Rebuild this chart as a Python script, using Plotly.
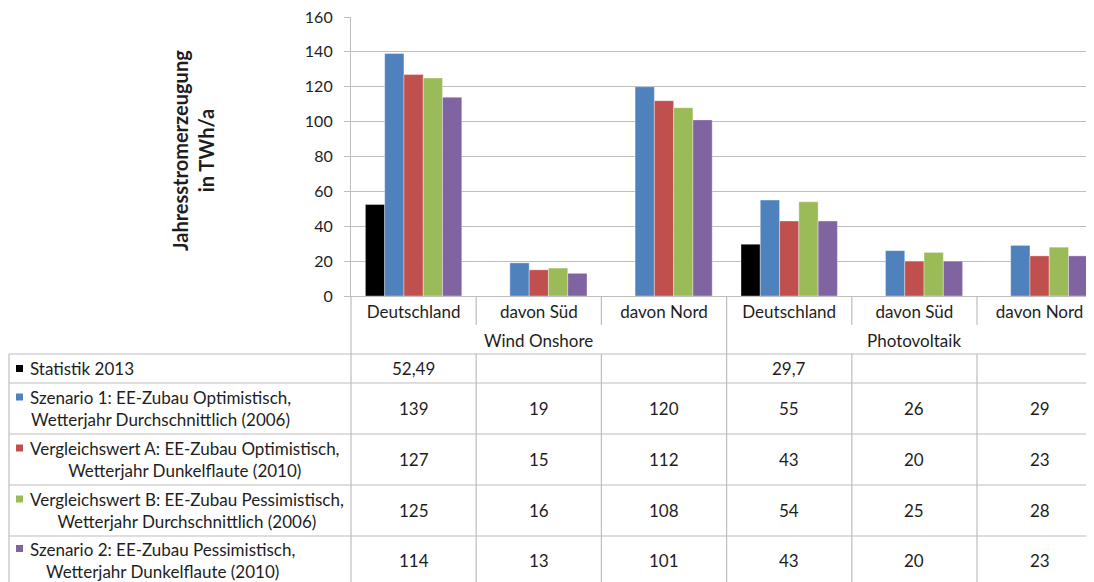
import plotly.graph_objects as go

# ---------------- data ----------------
categories = ["Deutschland", "davon Süd", "davon Nord", "Deutschland", "davon Süd", "davon Nord"]
category_groups = ["Wind Onshore", "Wind Onshore", "Wind Onshore",
                   "Photovoltaik", "Photovoltaik", "Photovoltaik"]

series_names = [
    "Statistik 2013",
    "Szenario 1: EE-Zubau Optimistisch,<br>Wetterjahr Durchschnittlich (2006)",
    "Vergleichswert A: EE-Zubau Optimistisch,<br>Wetterjahr Dunkelflaute (2010)",
    "Vergleichswert B: EE-Zubau Pessimistisch,<br>Wetterjahr Durchschnittlich (2006)",
    "Szenario 2: EE-Zubau Pessimistisch,<br>Wetterjahr Dunkelflaute (2010)",
]
statistik_2013 = [52.49, None, None, 29.7, None, None]
szenario_1 = [139, 19, 120, 55, 26, 29]
vergleichswert_a = [127, 15, 112, 43, 20, 23]
vergleichswert_b = [125, 16, 108, 54, 25, 28]
szenario_2 = [114, 13, 101, 43, 20, 23]
series_values = [statistik_2013, szenario_1, vergleichswert_a, vergleichswert_b, szenario_2]
series_colors = ["#000000", "#4F81BD", "#C0504D", "#9BBB59", "#8064A2"]

y_ticks = [0, 20, 40, 60, 80, 100, 120, 140, 160]
y_title = "Jahresstromerzeugung<br>in TWh/a"

# ---------------- layout geometry ----------------
# the page body has an 8px margin, so the figure starts at (8, 8) in the window
OFF = 8
W, H = 1094 - OFF, 582 - OFF
# plot area in window pixels
L_WIN, R_WIN, T_WIN, B_WIN = 351, 1094, 17, 296
L, R, T, B = L_WIN - OFF, R_WIN - OFF, T_WIN - OFF, B_WIN - OFF
CAT_W = 125.2
FONT = "Lato"
TXT = "#1e1e1e"
LINE = "#BEBEBE"
FS = 17


def px_x(p):
    """window pixel x -> paper x"""
    return (p - OFF - L) / (R - L)


def px_y(p):
    """window pixel y -> paper y"""
    return (B - (p - OFF)) / (B - T)


def fmt(v):
    if v is None:
        return ""
    return str(v).replace(".", ",")


x_idx = list(range(len(categories)))
x_range = [-0.5, -0.5 + (R - L) / CAT_W]

fig = go.Figure()
for name, vals, col in zip(series_names, series_values, series_colors):
    fig.add_trace(go.Bar(
        x=x_idx, y=vals, name=name.replace("<br>", " "),
        marker=dict(color=col, line=dict(width=0.6, color="rgba(255,255,255,0.6)")),
        showlegend=False,
    ))

# table row boundaries (window pixel y) and row centres
row_lines = [354, 383, 434, 485, 536]
row_bottom = 584
row_edges = row_lines + [row_bottom]
row_centers = [(row_edges[i] + row_edges[i + 1]) / 2 for i in range(len(series_names))]

shapes = []
line_style = dict(color=LINE, width=1.2)
for yy in row_lines:
    shapes.append(dict(type="line", xref="paper", yref="paper",
                       x0=px_x(9), x1=1.01, y0=px_y(yy), y1=px_y(yy), line=line_style))
shapes.append(dict(type="line", xref="paper", yref="paper",
                   x0=px_x(9), x1=px_x(9), y0=px_y(row_lines[0]), y1=px_y(row_bottom + 6), line=line_style))
shapes.append(dict(type="line", xref="paper", yref="paper",
                   x0=0, x1=0, y0=px_y(B_WIN), y1=px_y(row_bottom + 6), line=line_style))
for i in range(len(categories) - 1):
    xb = i + 0.5
    if category_groups[i] != category_groups[i + 1]:
        shapes.append(dict(type="line", xref="x", yref="paper", x0=xb, x1=xb,
                           y0=px_y(B_WIN), y1=px_y(row_bottom + 6), line=line_style))
    else:
        shapes.append(dict(type="line", xref="x", yref="paper", x0=xb, x1=xb,
                           y0=px_y(B_WIN), y1=px_y(325), line=line_style))
        shapes.append(dict(type="line", xref="x", yref="paper", x0=xb, x1=xb,
                           y0=px_y(row_lines[0]), y1=px_y(row_bottom + 6), line=line_style))

annotations = []
seen = []
for g in category_groups:
    if g not in seen:
        seen.append(g)
for g in seen:
    idxs = [i for i, cg in enumerate(category_groups) if cg == g]
    annotations.append(dict(x=sum(idxs) / len(idxs), xref="x", y=px_y(340), yref="paper",
                            text=g, showarrow=False, xanchor="center", yanchor="middle",
                            font=dict(family=FONT, size=FS, color=TXT)))

for r, (name, vals, col) in enumerate(zip(series_names, series_values, series_colors)):
    yc = row_centers[r]
    two_lines = "<br>" in name
    key_y = yc - 11.5 if two_lines else yc
    shapes.append(dict(type="rect", xref="paper", yref="paper",
                       x0=px_x(16), x1=px_x(23), y0=px_y(key_y - 3.5), y1=px_y(key_y + 3.5),
                       fillcolor=col, line=dict(width=0)))
    annotations.append(dict(x=px_x(28), xref="paper", y=px_y(yc), yref="paper",
                            text=name, showarrow=False, xanchor="left", yanchor="middle",
                            align="center", font=dict(family=FONT, size=FS, color=TXT)))
    for i, v in enumerate(vals):
        if v is None:
            continue
        annotations.append(dict(x=i, xref="x", y=px_y(yc), yref="paper",
                                text=fmt(v), showarrow=False, xanchor="center", yanchor="middle",
                                font=dict(family=FONT, size=FS, color=TXT)))

annotations.append(dict(x=px_x(193), xref="paper", y=px_y(151), yref="paper",
                        text="<b>" + y_title + "</b>", textangle=-90, showarrow=False,
                        xanchor="center", yanchor="middle", align="center",
                        font=dict(family=FONT, size=20, color=TXT)))

fig.update_layout(
    width=W, height=H,
    margin=dict(l=L, r=W - R, t=T, b=H - B, pad=0),
    paper_bgcolor="white", plot_bgcolor="white",
    barmode="group", bargap=0.23, bargroupgap=0,
    font=dict(family=FONT, size=FS, color=TXT),
    xaxis=dict(range=x_range, tickmode="array", tickvals=x_idx, ticktext=categories,
               showgrid=False, zeroline=False, showline=True, linecolor=LINE, linewidth=1.2,
               ticks="", tickfont=dict(family=FONT, size=FS, color=TXT), fixedrange=True),
    yaxis=dict(range=[0, 160], tickmode="array", tickvals=y_ticks,
               showgrid=True, gridcolor=LINE, gridwidth=1.2, zeroline=False,
               showline=True, linecolor=LINE, linewidth=1.2,
               ticks="outside", ticklen=6, tickcolor=LINE, tickwidth=1.2,
               ticklabelstandoff=8, ticklabeloverflow="allow",
               tickfont=dict(family=FONT, size=16, color=TXT), fixedrange=True),
    shapes=shapes, annotations=annotations,
    showlegend=False,
)

fig.write_html("out.html")
